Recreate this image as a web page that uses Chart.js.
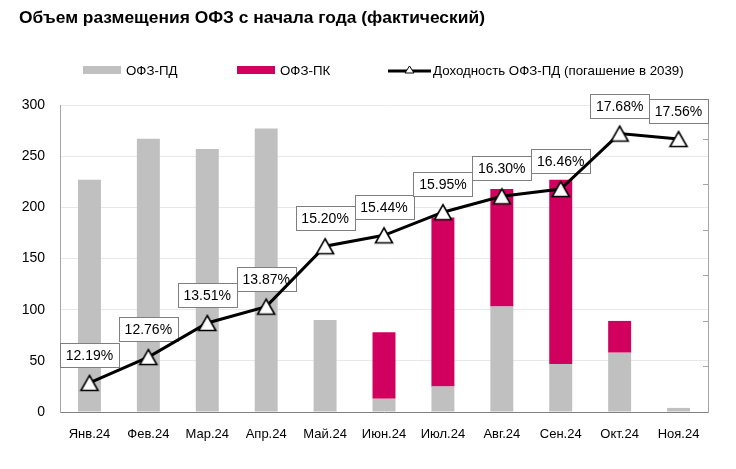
<!DOCTYPE html>
<html>
<head>
<meta charset="utf-8">
<script src="https://cdn.jsdelivr.net/npm/chart.js@4.4.1/dist/chart.umd.min.js"></script>
<style>
  body { margin: 0; background: #fff; }
  #wrap { position: relative; width: 736px; height: 469px; }
  #chart { position: absolute; left: 0; top: 0; }
  #title { position: absolute; left: 19px; top: 7px; font: bold 17.4px 'Liberation Sans', Arial, sans-serif; color: #000; white-space: nowrap; }
  .leg { position: absolute; top: 61px; height: 18px; display: flex; align-items: center;
         font: 13.3px 'Liberation Sans', Arial, sans-serif; color: #000; white-space: nowrap; }
  .sw { width: 38px; height: 8px; margin-right: 5px; }
</style>
</head>
<body>
<div id="wrap">
  <canvas id="chart" width="736" height="469"></canvas>
  <div id="title">Объем размещения ОФЗ с начала года (фактический)</div>
  <div class="leg" style="left:83px"><div class="sw" style="background:#c0c0c0"></div>ОФЗ-ПД</div>
  <div class="leg" style="left:237px"><div class="sw" style="background:#d1005f"></div>ОФЗ-ПК</div>
  <div class="leg" style="left:388px">
    <svg width="44" height="12" style="margin-right:1px">
      <line x1="0" y1="7" x2="43" y2="7" stroke="#000" stroke-width="3"/>
      <polygon points="21.5,2 26,9 17,9" fill="#fff" stroke="#000" stroke-width="1"/>
    </svg>Доходность ОФЗ-ПД (погашение в 2039)</div>
</div>
<script>
const months = ["Янв.24", "Фев.24", "Мар.24", "Апр.24", "Май.24", "Июн.24",
                "Июл.24", "Авг.24", "Сен.24", "Окт.24", "Ноя.24"];
const ofzPd = [227, 267, 257, 277, 90, 13, 25, 103, 47, 58, 4];
const ofzPk = [0, 0, 0, 0, 0, 65, 165, 115, 180, 31, 0];
const yieldPd = [12.19, 12.76, 13.51, 13.87, 15.20, 15.44, 15.95, 16.30, 16.46, 17.68, 17.56];
const yTicks = [0, 50, 100, 150, 200, 250, 300];
const yieldTicks = [11.55, 12.55, 13.55, 14.55, 15.55, 16.55, 17.55];

const font = "'Liberation Sans', Arial, sans-serif";

// triangle marker with its box centred on the point (like Excel)
function makeTriangle() {
  const c = document.createElement("canvas");
  c.width = 22;
  c.height = 20;
  const g = c.getContext("2d");
  g.beginPath();
  g.moveTo(11, 2.5);
  g.lineTo(19.5, 17.5);
  g.lineTo(2.5, 17.5);
  g.closePath();
  g.fillStyle = "#fff";
  g.fill();
  g.lineWidth = 1.6;
  g.strokeStyle = "#000";
  g.lineJoin = "miter";
  g.stroke();
  return c;
}

// boxes with the yield values, drawn just before the line so the line sits on top
const pctLabels = {
  id: "pctLabels",
  beforeDatasetDraw(chart, args) {
    if (args.index !== 0) return;
    const ctx = chart.ctx;
    ctx.save();
    ctx.font = "14px " + font;
    ctx.textAlign = "center";
    ctx.textBaseline = "middle";
    args.meta.data.forEach(function (pt, i) {
      const text = yieldPd[i].toFixed(2) + "%";
      const w = Math.round(ctx.measureText(text).width + 12);
      const h = 24;
      const left = Math.round(pt.x - w / 2);
      const top = Math.round(pt.y - 28 - h / 2);
      ctx.fillStyle = "#fff";
      ctx.fillRect(left, top, w, h);
      ctx.strokeStyle = "#7f7f7f";
      ctx.lineWidth = 1;
      ctx.strokeRect(left + 0.5, top + 0.5, w, h);
      ctx.fillStyle = "#000";
      ctx.fillText(text, pt.x, top + h / 2 + 1);
    });
    ctx.restore();
  }
};

new Chart(document.getElementById("chart"), {
  type: "bar",
  data: {
    labels: months,
    datasets: [
      {
        type: "line",
        label: "Доходность ОФЗ-ПД (погашение в 2039)",
        data: yieldPd,
        yAxisID: "y1",
        order: 0,
        borderColor: "#000",
        borderWidth: 3,
        tension: 0,
        pointStyle: makeTriangle(),
        pointRadius: 10
      },
      {
        label: "ОФЗ-ПД",
        data: ofzPd,
        backgroundColor: "#c0c0c0",
        stack: "s",
        order: 1,
        barPercentage: 0.39,
        categoryPercentage: 1
      },
      {
        label: "ОФЗ-ПК",
        data: ofzPk,
        backgroundColor: "#d1005f",
        stack: "s",
        order: 1,
        barPercentage: 0.39,
        categoryPercentage: 1
      }
    ]
  },
  options: {
    responsive: false,
    animation: false,
    layout: { padding: { top: 105, left: 0, right: 0, bottom: 0 } },
    plugins: {
      legend: { display: false },
      tooltip: { enabled: false }
    },
    scales: {
      x: {
        stacked: true,
        grid: { display: false },
        border: { color: "#808080", width: 1 },
        ticks: { color: "#000", font: { family: font, size: 13 }, padding: 7, maxRotation: 0 },
        afterFit: function (s) { s.height = 57; }
      },
      y: {
        stacked: true,
        min: 0,
        max: 300,
        grid: { color: "#e8e8e8", drawTicks: false },
        border: { color: "#a6a6a6", width: 1 },
        ticks: { color: "#000", font: { family: font, size: 14 }, padding: 15 },
        afterBuildTicks: function (s) { s.ticks = yTicks.map(v => ({ value: v })); },
        afterFit: function (s) { s.width = 60; }
      },
      y1: {
        position: "right",
        min: 11.55,
        max: 18.31,
        grid: { drawOnChartArea: false, color: "#a6a6a6", tickLength: -5 },
        border: { color: "#a6a6a6", width: 1 },
        ticks: { display: false },
        afterBuildTicks: function (s) { s.ticks = yieldTicks.map(v => ({ value: v })); },
        afterFit: function (s) { s.width = 28; }
      }
    }
  },
  plugins: [pctLabels]
});
</script>
</body>
</html>
